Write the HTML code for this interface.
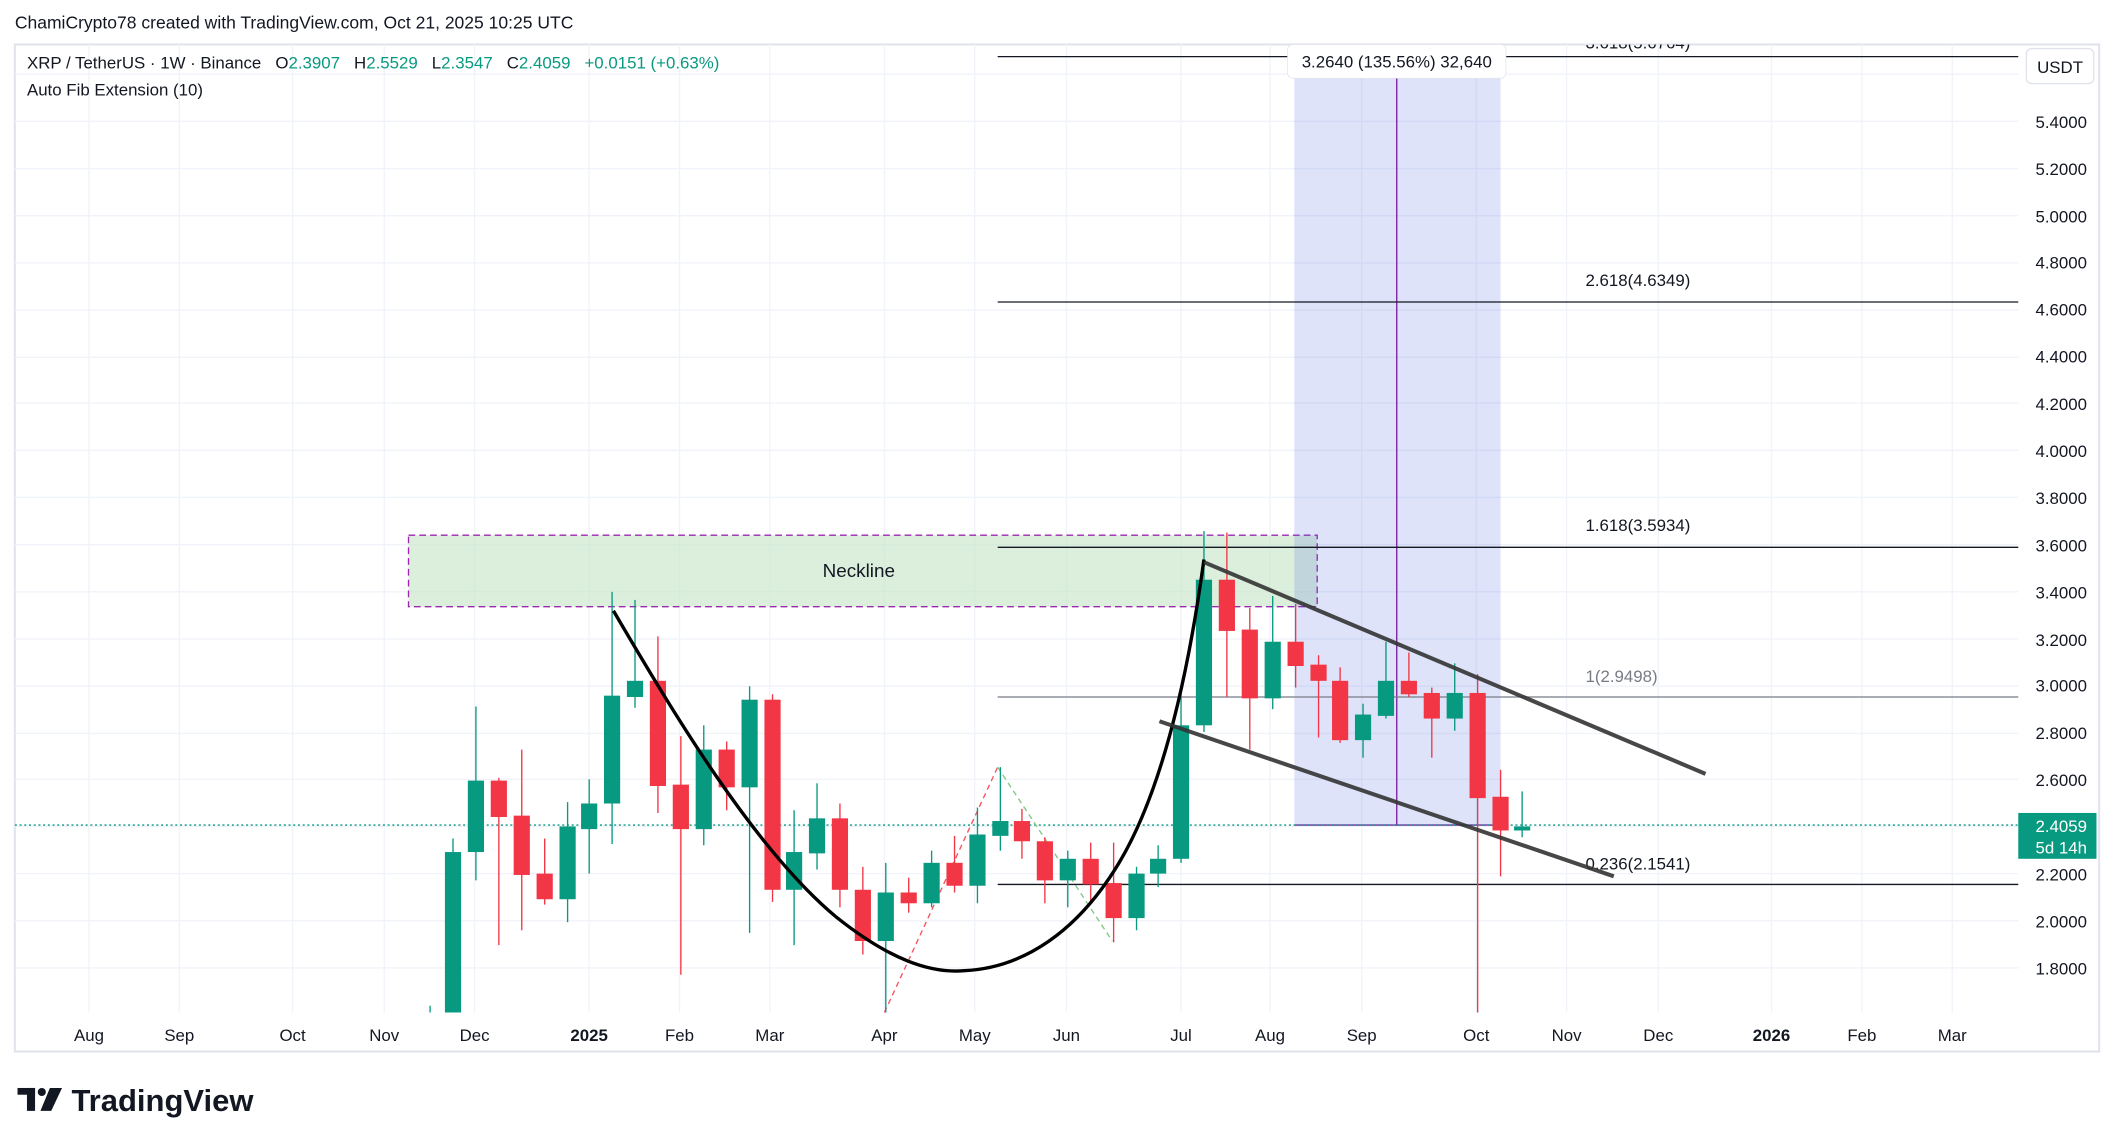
<!DOCTYPE html>
<html><head><meta charset="utf-8"><style>
html,body{margin:0;padding:0;background:#fff;}
svg{display:block;font-family:"Liberation Sans","DejaVu Sans",sans-serif;}
</style></head><body>
<svg width="2114" height="1145" viewBox="0 0 1568 849.3" preserveAspectRatio="none" xmlns="http://www.w3.org/2000/svg">
<defs><clipPath id="cp"><rect x="11" y="33" width="1486" height="718"/></clipPath></defs>
<rect width="1568" height="850" fill="#fff"/>
<text x="11" y="21" font-size="13" fill="#131722">ChamiCrypto78 created with TradingView.com, Oct 21, 2025 10:25 UTC</text>
<rect x="11" y="33" width="1546" height="747" fill="none" stroke="#e0e3eb" stroke-width="1.5"/>
<g stroke="#f0f3fa" stroke-width="1">
<line x1="11" x2="1497" y1="55" y2="55"/><line x1="11" x2="1497" y1="90" y2="90"/><line x1="11" x2="1497" y1="125" y2="125"/><line x1="11" x2="1497" y1="160" y2="160"/><line x1="11" x2="1497" y1="195" y2="195"/><line x1="11" x2="1497" y1="230" y2="230"/><line x1="11" x2="1497" y1="265" y2="265"/><line x1="11" x2="1497" y1="299" y2="299"/><line x1="11" x2="1497" y1="334" y2="334"/><line x1="11" x2="1497" y1="369" y2="369"/><line x1="11" x2="1497" y1="404" y2="404"/><line x1="11" x2="1497" y1="439" y2="439"/><line x1="11" x2="1497" y1="474" y2="474"/><line x1="11" x2="1497" y1="509" y2="509"/><line x1="11" x2="1497" y1="544" y2="544"/><line x1="11" x2="1497" y1="578" y2="578"/><line x1="11" x2="1497" y1="613" y2="613"/><line x1="11" x2="1497" y1="648" y2="648"/><line x1="11" x2="1497" y1="683" y2="683"/><line x1="11" x2="1497" y1="718" y2="718"/>
<line x1="66" x2="66" y1="33" y2="751"/><line x1="133" x2="133" y1="33" y2="751"/><line x1="217" x2="217" y1="33" y2="751"/><line x1="285" x2="285" y1="33" y2="751"/><line x1="352" x2="352" y1="33" y2="751"/><line x1="437" x2="437" y1="33" y2="751"/><line x1="504" x2="504" y1="33" y2="751"/><line x1="571" x2="571" y1="33" y2="751"/><line x1="656" x2="656" y1="33" y2="751"/><line x1="723" x2="723" y1="33" y2="751"/><line x1="791" x2="791" y1="33" y2="751"/><line x1="876" x2="876" y1="33" y2="751"/><line x1="942" x2="942" y1="33" y2="751"/><line x1="1010" x2="1010" y1="33" y2="751"/><line x1="1095" x2="1095" y1="33" y2="751"/><line x1="1162" x2="1162" y1="33" y2="751"/><line x1="1230" x2="1230" y1="33" y2="751"/><line x1="1314" x2="1314" y1="33" y2="751"/><line x1="1381" x2="1381" y1="33" y2="751"/><line x1="1448" x2="1448" y1="33" y2="751"/>
</g>
<text x="20" y="51" font-size="12.5" fill="#131722" xml:space="preserve">XRP / TetherUS · 1W · Binance   O<tspan fill="#089981">2.3907</tspan>   H<tspan fill="#089981">2.5529</tspan>   L<tspan fill="#089981">2.3547</tspan>   C<tspan fill="#089981">2.4059   +0.0151 (+0.63%)</tspan></text>
<text x="20" y="71" font-size="12.5" fill="#131722">Auto Fib Extension (10)</text>
<rect x="303" y="397" width="674" height="53" fill="#c8e6c9" fill-opacity="0.65" stroke="#9c27b0" stroke-dasharray="5,3" stroke-width="1"/>
<text x="637" y="428" font-size="14" text-anchor="middle" fill="#131722">Neckline</text>
<rect x="960" y="33" width="153" height="579" fill="#4a66e0" fill-opacity="0.18"/>
<line x1="960" x2="1113" y1="612" y2="612" stroke="#7b1fa2" stroke-width="1"/>
<line x1="1036" x2="1036" y1="33" y2="612" stroke="#7b1fa2" stroke-width="1"/>
<line x1="740" x2="1497" y1="42" y2="42" stroke="#131722" stroke-width="1"/>
<line x1="740" x2="1497" y1="224" y2="224" stroke="#131722" stroke-width="1"/>
<line x1="740" x2="1497" y1="406" y2="406" stroke="#131722" stroke-width="1"/>
<line x1="740" x2="1497" y1="517" y2="517" stroke="#787b86" stroke-width="1"/>
<line x1="740" x2="1497" y1="656" y2="656" stroke="#131722" stroke-width="1"/>
<text x="1176" y="36" font-size="12.5" fill="#131722" clip-path="url(#cp)">3.618(5.6764)</text>
<text x="1176" y="212" font-size="12.5" fill="#131722">2.618(4.6349)</text>
<text x="1176" y="394" font-size="12.5" fill="#131722">1.618(3.5934)</text>
<text x="1176" y="506" font-size="12.5" fill="#787b86">1(2.9498)</text>
<text x="1176" y="645" font-size="12.5" fill="#131722">0.236(2.1541)</text>
<rect x="955" y="33" width="162" height="25" rx="4" fill="#fff" stroke="#e0e3eb" stroke-width="0.5"/>
<text x="1036" y="50" font-size="12.5" text-anchor="middle" fill="#131722">3.2640 (135.56%) 32,640</text>
<line x1="11" x2="1497" y1="612" y2="612" stroke="#089981" stroke-width="1" stroke-dasharray="1.5,2"/>
<line x1="656" y1="751" x2="740" y2="569" stroke="#f7525f" stroke-width="1" stroke-dasharray="4,3"/>
<line x1="740" y1="569" x2="825" y2="698" stroke="#81c784" stroke-width="1" stroke-dasharray="4,3"/>
<g stroke-width="1">
<g fill="#089981" stroke="#089981">
<line x1="319" x2="319" y1="746" y2="751"/>
<line x1="336" x2="336" y1="622" y2="751"/><rect x="330" y="632" width="12" height="119" stroke="none"/>
<line x1="353" x2="353" y1="524" y2="653"/><rect x="347" y="579" width="12" height="53" stroke="none"/>
<line x1="421" x2="421" y1="595" y2="684"/><rect x="415" y="613" width="12" height="54" stroke="none"/>
<line x1="437" x2="437" y1="578" y2="648"/><rect x="431" y="596" width="12" height="19" stroke="none"/>
<line x1="454" x2="454" y1="439" y2="626"/><rect x="448" y="516" width="12" height="80" stroke="none"/>
<line x1="471" x2="471" y1="445" y2="525"/><rect x="465" y="505" width="12" height="12" stroke="none"/>
<line x1="522" x2="522" y1="538" y2="627"/><rect x="516" y="556" width="12" height="59" stroke="none"/>
<line x1="556" x2="556" y1="509" y2="692"/><rect x="550" y="519" width="12" height="65" stroke="none"/>
<line x1="589" x2="589" y1="601" y2="701"/><rect x="583" y="632" width="12" height="28" stroke="none"/>
<line x1="606" x2="606" y1="581" y2="645"/><rect x="600" y="607" width="12" height="26" stroke="none"/>
<line x1="657" x2="657" y1="640" y2="751"/><rect x="651" y="662" width="12" height="36" stroke="none"/>
<line x1="691" x2="691" y1="631" y2="673"/><rect x="685" y="640" width="12" height="30" stroke="none"/>
<line x1="725" x2="725" y1="599" y2="670"/><rect x="719" y="619" width="12" height="38" stroke="none"/>
<line x1="742" x2="742" y1="569" y2="631"/><rect x="736" y="609" width="12" height="11" stroke="none"/>
<line x1="792" x2="792" y1="631" y2="673"/><rect x="786" y="637" width="12" height="16" stroke="none"/>
<line x1="843" x2="843" y1="643" y2="690"/><rect x="837" y="648" width="12" height="33" stroke="none"/>
<line x1="859" x2="859" y1="627" y2="658"/><rect x="853" y="637" width="12" height="11" stroke="none"/>
<line x1="876" x2="876" y1="513" y2="640"/><rect x="870" y="538" width="12" height="99" stroke="none"/>
<line x1="893" x2="893" y1="394" y2="543"/><rect x="887" y="430" width="12" height="108" stroke="none"/>
<line x1="944" x2="944" y1="442" y2="526"/><rect x="938" y="476" width="12" height="42" stroke="none"/>
<line x1="1011" x2="1011" y1="522" y2="562"/><rect x="1005" y="530" width="12" height="19" stroke="none"/>
<line x1="1028" x2="1028" y1="476" y2="533"/><rect x="1022" y="505" width="12" height="26" stroke="none"/>
<line x1="1079" x2="1079" y1="492" y2="542"/><rect x="1073" y="514" width="12" height="19" stroke="none"/>
<line x1="1129" x2="1129" y1="587" y2="621"/><rect x="1123" y="613" width="12" height="3" stroke="none"/>
</g>
<g fill="#f23645" stroke="#f23645">
<line x1="370" x2="370" y1="577" y2="701"/><rect x="364" y="579" width="12" height="27" stroke="none"/>
<line x1="387" x2="387" y1="556" y2="690"/><rect x="381" y="605" width="12" height="44" stroke="none"/>
<line x1="404" x2="404" y1="622" y2="671"/><rect x="398" y="648" width="12" height="19" stroke="none"/>
<line x1="488" x2="488" y1="472" y2="603"/><rect x="482" y="505" width="12" height="78" stroke="none"/>
<line x1="505" x2="505" y1="546" y2="723"/><rect x="499" y="582" width="12" height="33" stroke="none"/>
<line x1="539" x2="539" y1="550" y2="601"/><rect x="533" y="556" width="12" height="28" stroke="none"/>
<line x1="573" x2="573" y1="515" y2="669"/><rect x="567" y="519" width="12" height="141" stroke="none"/>
<line x1="623" x2="623" y1="596" y2="673"/><rect x="617" y="607" width="12" height="53" stroke="none"/>
<line x1="640" x2="640" y1="643" y2="708"/><rect x="634" y="660" width="12" height="38" stroke="none"/>
<line x1="674" x2="674" y1="651" y2="677"/><rect x="668" y="662" width="12" height="8" stroke="none"/>
<line x1="708" x2="708" y1="620" y2="662"/><rect x="702" y="640" width="12" height="17" stroke="none"/>
<line x1="758" x2="758" y1="600" y2="637"/><rect x="752" y="609" width="12" height="15" stroke="none"/>
<line x1="775" x2="775" y1="621" y2="670"/><rect x="769" y="624" width="12" height="29" stroke="none"/>
<line x1="809" x2="809" y1="625" y2="669"/><rect x="803" y="637" width="12" height="19" stroke="none"/>
<line x1="826" x2="826" y1="625" y2="699"/><rect x="820" y="655" width="12" height="26" stroke="none"/>
<line x1="910" x2="910" y1="395" y2="517"/><rect x="904" y="430" width="12" height="38" stroke="none"/>
<line x1="927" x2="927" y1="451" y2="556"/><rect x="921" y="467" width="12" height="51" stroke="none"/>
<line x1="961" x2="961" y1="448" y2="510"/><rect x="955" y="476" width="12" height="18" stroke="none"/>
<line x1="978" x2="978" y1="486" y2="547"/><rect x="972" y="493" width="12" height="12" stroke="none"/>
<line x1="994" x2="994" y1="495" y2="551"/><rect x="988" y="505" width="12" height="44" stroke="none"/>
<line x1="1045" x2="1045" y1="484" y2="517"/><rect x="1039" y="505" width="12" height="10" stroke="none"/>
<line x1="1062" x2="1062" y1="510" y2="562"/><rect x="1056" y="514" width="12" height="19" stroke="none"/>
<line x1="1096" x2="1096" y1="500" y2="751"/><rect x="1090" y="514" width="12" height="78" stroke="none"/>
<line x1="1113" x2="1113" y1="571" y2="650"/><rect x="1107" y="591" width="12" height="25" stroke="none"/>
</g>
</g>
<path d="M455,453 C500,530 560,630 620,680 C660,712 690,722 715,720 C760,718 800,690 830,640 C860,590 880,510 893,415" fill="none" stroke="#000" stroke-width="2.5"/>
<line x1="893" y1="417" x2="1265" y2="574" stroke="#333" stroke-width="3" stroke-opacity="0.9"/>
<line x1="860" y1="535" x2="1197" y2="650" stroke="#333" stroke-width="3" stroke-opacity="0.9"/>
<rect x="1498" y="34" width="58" height="716" fill="#fff"/>
<rect x="1503" y="36" width="50" height="26" rx="4" fill="#fff" stroke="#e0e3eb"/>
<text x="1528" y="54" font-size="12.5" text-anchor="middle" fill="#131722">USDT</text>
<g font-size="12.5" fill="#131722" text-anchor="end">
<text x="1548" y="95">5.4000</text><text x="1548" y="130">5.2000</text><text x="1548" y="165">5.0000</text><text x="1548" y="199">4.8000</text><text x="1548" y="234">4.6000</text><text x="1548" y="269">4.4000</text><text x="1548" y="304">4.2000</text><text x="1548" y="339">4.0000</text><text x="1548" y="374">3.8000</text><text x="1548" y="409">3.6000</text><text x="1548" y="444">3.4000</text><text x="1548" y="479">3.2000</text><text x="1548" y="513">3.0000</text><text x="1548" y="548">2.8000</text><text x="1548" y="583">2.6000</text><text x="1548" y="653">2.2000</text><text x="1548" y="688">2.0000</text><text x="1548" y="723">1.8000</text>
</g>
<rect x="1497" y="603" width="58" height="34" fill="#089981"/>
<text x="1548" y="617" font-size="12.5" fill="#fff" text-anchor="end">2.4059</text>
<text x="1548" y="633" font-size="12.5" fill="#fff" text-anchor="end">5d 14h</text>
<g font-size="12.5" fill="#131722" text-anchor="middle">
<text x="66" y="772">Aug</text><text x="133" y="772">Sep</text><text x="217" y="772">Oct</text><text x="285" y="772">Nov</text><text x="352" y="772">Dec</text><text x="437" y="772" font-weight="bold">2025</text><text x="504" y="772">Feb</text><text x="571" y="772">Mar</text><text x="656" y="772">Apr</text><text x="723" y="772">May</text><text x="791" y="772">Jun</text><text x="876" y="772">Jul</text><text x="942" y="772">Aug</text><text x="1010" y="772">Sep</text><text x="1095" y="772">Oct</text><text x="1162" y="772">Nov</text><text x="1230" y="772">Dec</text><text x="1314" y="772" font-weight="bold">2026</text><text x="1381" y="772">Feb</text><text x="1448" y="772">Mar</text>
</g>
<g fill="#131722">
<rect x="13" y="807" width="13" height="5"/><rect x="20" y="807" width="6" height="17"/>
<circle cx="31" cy="810" r="3"/>
<polygon points="37,807 46,807 38,824 30,824"/>
<text x="53" y="824" font-size="23" font-weight="bold">TradingView</text>
</g>
</svg>
</body></html>
